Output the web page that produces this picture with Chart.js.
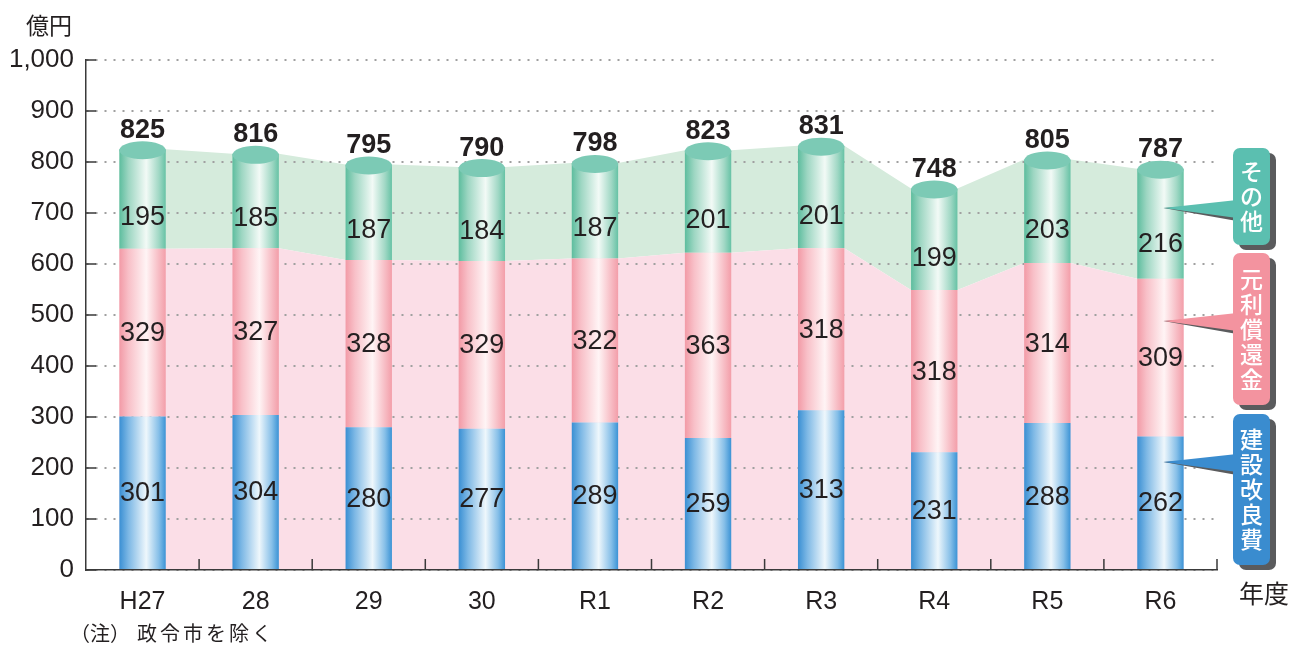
<!DOCTYPE html>
<html lang="ja">
<head>
<meta charset="UTF-8">
<title>建設改良費・元利償還金・その他の推移</title>
<script src="https://cdn.jsdelivr.net/npm/chart.js"></script>
<style>
    body { margin: 0; background: #fff; }
    #wrap { position: relative; width: 1304px; height: 648px; }
    .note {
        position: absolute;
        font-family: "Noto Sans CJK JP", sans-serif;
        color: #231f20;
        line-height: 1;
        white-space: nowrap;
    }
</style>
</head>
<body>
<div id="wrap">
    <canvas id="chart" width="1304" height="648"></canvas>
    <div class="note" style="left:26px; top:13px; font-size:23px;">億円</div>
    <div class="note" style="left:1239px; top:580px; font-size:25px;">年度</div>
    <div class="note" style="left:70px; top:623px; font-size:20px;">（注）<span style="margin-left:7px; letter-spacing:3px;">政令市を除く</span></div>
</div>
<script>
    const categories = ['H27', '28', '29', '30', 'R1', 'R2', 'R3', 'R4', 'R5', 'R6'];
    const constructionCost = [301, 304, 280, 277, 289, 259, 313, 231, 288, 262];
    const principalRepayment = [329, 327, 328, 329, 322, 363, 318, 318, 314, 309];
    const otherCost = [195, 185, 187, 184, 187, 201, 201, 199, 203, 216];
    const totals = [825, 816, 795, 790, 798, 823, 831, 748, 805, 787];
    const yMax = 1000;
    const yStep = 100;

    const FONT = '"Liberation Sans", "Noto Sans CJK JP", sans-serif';
    const INK = '#231f20';

    // colour stops across each cylinder, left to right
    const shades = [
        [[0, '#3a8fd3'], [0.2, '#7db8e5'], [0.58, '#eef7fc'], [0.85, '#86bfe8'], [1, '#3b93d5']],
        [[0, '#f29aa6'], [0.2, '#f8c0c8'], [0.58, '#fff4f5'], [0.85, '#f7bcc4'], [1, '#f39ea9']],
        [[0, '#5dbd9e'], [0.2, '#9dd6c2'], [0.58, '#f2faf6'], [0.85, '#a1d8c5'], [1, '#66c2a5']]
    ];

    const legendItems = [
        { text: 'その他', color: '#5bbfb0', top: 148, bottom: 245, tipY: 208 },
        { text: '元利償還金', color: '#f3939f', top: 253, bottom: 405, tipY: 321 },
        { text: '建設改良費', color: '#3a8ccf', top: 414, bottom: 565, tipY: 462 }
    ];

    function barBox(el) {
        return { l: el.x - el.width / 2, r: el.x + el.width / 2 };
    }

    function fillBand(ctx, els, top, bottom, color) {
        ctx.save();
        ctx.beginPath();
        els.forEach((el, i) => {
            const b = barBox(el);
            if (i === 0) ctx.moveTo(b.l, top(el)); else ctx.lineTo(b.l, top(el));
            ctx.lineTo(b.r, top(el));
        });
        for (let i = els.length - 1; i >= 0; i--) {
            const b = barBox(els[i]);
            ctx.lineTo(b.r, bottom(els[i]));
            ctx.lineTo(b.l, bottom(els[i]));
        }
        ctx.closePath();
        ctx.fillStyle = color;
        ctx.fill();
        ctx.restore();
    }

    function roundRect(ctx, x, y, w, h, r) {
        ctx.beginPath();
        ctx.moveTo(x + r, y);
        ctx.arcTo(x + w, y, x + w, y + h, r);
        ctx.arcTo(x + w, y + h, x, y + h, r);
        ctx.arcTo(x, y + h, x, y, r);
        ctx.arcTo(x, y, x + w, y, r);
        ctx.closePath();
    }

    const bandPlugin = {
        id: 'bands',
        beforeDraw(chart) {
            const y0 = chart.scales.y.getPixelForValue(0);
            fillBand(chart.ctx, chart.getDatasetMeta(2).data, el => el.y, el => el.base, '#d5ebdc');
            fillBand(chart.ctx, chart.getDatasetMeta(1).data, el => el.y, () => y0, '#fbdee7');
        }
    };

    const cylinderPlugin = {
        id: 'cylinders',
        beforeDatasetsDraw(chart) {
            chart.data.datasets.forEach((ds, i) => {
                chart.getDatasetMeta(i).data.forEach(el => {
                    const b = barBox(el);
                    const g = chart.ctx.createLinearGradient(b.l, 0, b.r, 0);
                    shades[i].forEach(([stop, c]) => g.addColorStop(stop, c));
                    el.options = Object.assign({}, el.options, { backgroundColor: g });
                });
            });
        },
        afterDatasetsDraw(chart) {
            const ctx = chart.ctx;
            const greens = chart.getDatasetMeta(2).data;
            ctx.save();
            greens.forEach(el => {
                ctx.beginPath();
                ctx.ellipse(el.x, el.y + 1, el.width / 2, 9, 0, 0, Math.PI * 2);
                ctx.fillStyle = '#7ccab5';
                ctx.fill();
            });

            ctx.fillStyle = INK;
            ctx.textAlign = 'center';
            ctx.textBaseline = 'middle';
            ctx.font = '27px ' + FONT;
            chart.data.datasets.forEach((ds, i) => {
                chart.getDatasetMeta(i).data.forEach((el, j) => {
                    const y = i === 2 ? el.base - 0.32 * (el.base - el.y) : (el.y + el.base) / 2;
                    ctx.fillText(String(ds.data[j]), el.x, y + 1);
                });
            });

            ctx.font = 'bold 27px ' + FONT;
            greens.forEach((el, j) => {
                ctx.fillText(String(totals[j]), el.x, el.y - 19);
            });
            ctx.restore();
        }
    };

    const axisTickPlugin = {
        id: 'axisTicks',
        afterDraw(chart) {
            const ctx = chart.ctx;
            const area = chart.chartArea;
            const xs = chart.scales.x;
            const ys = chart.scales.y;
            ctx.save();
            ctx.strokeStyle = '#3a3a3a';
            ctx.lineWidth = 1.5;
            ctx.beginPath();
            for (let v = 0; v <= yMax; v += yStep) {
                const y = ys.getPixelForValue(v);
                ctx.moveTo(area.left, y);
                ctx.lineTo(area.left + 10, y);
            }
            for (let i = 1; i <= categories.length; i++) {
                const x = xs.getPixelForValue(i - 0.5);
                ctx.moveTo(x, area.bottom);
                ctx.lineTo(x, area.bottom - 11);
            }
            ctx.stroke();
            ctx.restore();
        }
    };

    const calloutPlugin = {
        id: 'callouts',
        afterDraw(chart) {
            const ctx = chart.ctx;
            const last = chart.getDatasetMeta(2).data[categories.length - 1];
            const tipX = last.x + 3;
            const boxX = 1233;
            const boxW = 37;
            ctx.save();
            legendItems.forEach(item => {
                const h = item.bottom - item.top;
                const baseTop = item.tipY - 8;
                const baseBot = item.tipY + 10;

                ctx.fillStyle = '#5a5b5d';
                roundRect(ctx, boxX + 6, item.top + 5, boxW, h, 7);
                ctx.fill();
                ctx.beginPath();
                ctx.moveTo(tipX, item.tipY);
                ctx.lineTo(boxX + 4, baseTop + 3);
                ctx.lineTo(boxX + 4, baseBot + 3);
                ctx.closePath();
                ctx.fill();

                ctx.fillStyle = item.color;
                ctx.beginPath();
                ctx.moveTo(tipX, item.tipY);
                ctx.lineTo(boxX + 4, baseTop);
                ctx.lineTo(boxX + 4, baseBot);
                ctx.closePath();
                ctx.fill();
                roundRect(ctx, boxX, item.top, boxW, h, 7);
                ctx.fill();

                const chars = Array.from(item.text);
                const step = 25;
                const cx = boxX + boxW / 2;
                const startY = item.top + h / 2 - step * (chars.length - 1) / 2;
                ctx.fillStyle = '#ffffff';
                ctx.font = '500 23px "Noto Sans CJK JP", sans-serif';
                ctx.textAlign = 'center';
                ctx.textBaseline = 'middle';
                chars.forEach((c, k) => ctx.fillText(c, cx, startY + k * step));
            });
            ctx.restore();
        }
    };

    new Chart(document.getElementById('chart'), {
        type: 'bar',
        data: {
            labels: categories,
            datasets: [
                { label: '建設改良費', data: constructionCost, backgroundColor: '#3a8fd3' },
                { label: '元利償還金', data: principalRepayment, backgroundColor: '#f29aa6' },
                { label: 'その他', data: otherCost, backgroundColor: '#5dbd9e' }
            ]
        },
        options: {
            responsive: false,
            animation: false,
            devicePixelRatio: 1,
            layout: { padding: { top: 60, right: 87, left: 0, bottom: 0 } },
            datasets: {
                bar: { categoryPercentage: 1, barPercentage: 0.41, borderWidth: 0 }
            },
            plugins: {
                legend: { display: false },
                tooltip: { enabled: false }
            },
            scales: {
                x: {
                    stacked: true,
                    grid: { display: false },
                    border: { display: true, color: '#3a3a3a', width: 1.5 },
                    ticks: { color: INK, font: { family: FONT, size: 25 }, padding: 9 },
                    afterFit(scale) { scale.height = 78; }
                },
                y: {
                    stacked: true,
                    min: 0,
                    max: yMax,
                    ticks: {
                        stepSize: yStep,
                        color: INK,
                        font: { family: FONT, size: 26 },
                        padding: 12,
                        callback: v => v.toLocaleString('en-US')
                    },
                    grid: { color: '#a0a0a0', lineWidth: 2, drawTicks: false },
                    border: { display: true, color: '#3a3a3a', width: 1.5, dash: [2, 7] },
                    afterFit(scale) { scale.width = 86; }
                }
            }
        },
        plugins: [bandPlugin, cylinderPlugin, axisTickPlugin, calloutPlugin]
    });
</script>
</body>
</html>
